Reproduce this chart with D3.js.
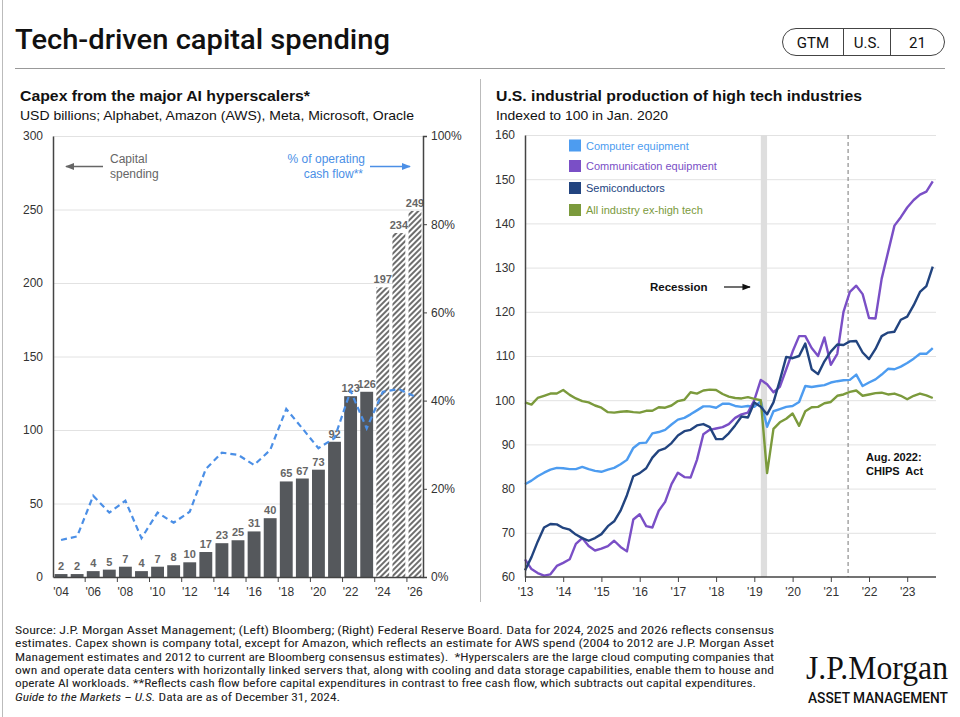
<!DOCTYPE html>
<html><head><meta charset="utf-8">
<script src="https://cdn.jsdelivr.net/npm/d3@7"></script>
<style>
html,body{margin:0;padding:0;background:#fff;}
svg{display:block;font-family:"Liberation Sans",Arial,sans-serif;}
</style></head><body>
<svg id="chart" width="960" height="717"></svg>
<script>
// ---------- Left chart data ----------
const capexYears = [2004,2005,2006,2007,2008,2009,2010,2011,2012,2013,2014,2015,2016,2017,2018,2019,2020,2021,2022,2023,2024,2025,2026];
const capexValues = [2,2,4,5,7,4,7,8,10,17,23,25,31,40,65,67,73,92,123,126,197,234,249];
const estimateYears = [2024,2025,2026];
const cashFlowPct = [8.4,9.2,18.4,14.6,17.3,8.8,14.6,12.3,14.8,24.5,28.2,27.7,25.4,28.8,38.1,33.7,29.2,31.5,42.2,33.7,42.0,42.6,40.9];
const leftTickValues = [0,50,100,150,200,250,300];
const rightTickValues = [0,20,40,60,80,100];
const leftXTickYears = [2004,2006,2008,2010,2012,2014,2016,2018,2020,2022,2024,2026];
const leftXTickLabels = ["'04","'06","'08","'10","'12","'14","'16","'18","'20","'22","'24","'26"];

// ---------- Right chart data (bi-monthly readings) ----------
const ipDates = ["2013-12","2014-02","2014-04","2014-06","2014-08","2014-10","2014-12","2015-02","2015-04","2015-06","2015-08","2015-10","2015-12","2016-02","2016-04","2016-06","2016-08","2016-10","2016-12","2017-02","2017-04","2017-06","2017-08","2017-10","2017-12","2018-02","2018-04","2018-06","2018-08","2018-10","2018-12","2019-02","2019-04","2019-06","2019-08","2019-10","2019-12","2020-02","2020-04","2020-06","2020-08","2020-10","2020-12","2021-02","2021-04","2021-06","2021-08","2021-10","2021-12","2022-02","2022-04","2022-06","2022-08","2022-10","2022-12","2023-02","2023-04","2023-06","2023-08","2023-10","2023-12","2024-02","2024-04","2024-06","2024-08"];
const computerEquipment = [81.0,81.8,82.8,83.6,84.3,84.7,84.6,84.4,84.4,84.9,84.4,84.0,83.8,84.3,84.7,85.5,86.5,89.2,90.3,90.4,92.5,92.8,93.3,94.5,95.6,96.0,96.8,97.7,98.6,98.6,98.3,99.2,99.2,98.7,98.5,98.7,98.5,99.8,94.0,97.5,98.0,98.5,98.7,99.6,103.2,103.0,103.2,103.4,104.0,104.3,104.5,104.6,105.8,103.2,104.0,104.7,105.8,107.1,107.0,107.6,108.4,109.4,110.5,110.5,111.8];
const communicationEquipment = [64.0,61.8,60.9,60.3,60.6,62.5,63.2,64.0,67.5,68.8,67.0,66.0,66.4,67.0,68.2,66.8,65.8,73.0,74.2,71.5,71.2,75.0,77.0,81.0,83.6,82.6,82.5,86.5,92.3,93.3,93.6,93.9,94.6,96.0,96.8,97.2,100.0,104.6,103.6,101.8,103.0,107.0,111.0,114.5,114.5,111.8,110.0,114.2,108.0,110.5,120.0,124.5,125.9,124.0,118.6,118.5,127.5,133.5,139.5,141.4,143.6,145.3,146.5,147.2,149.5];
const semiconductors = [61.5,64.5,68.0,71.2,72.0,71.9,71.1,70.7,69.6,68.8,68.2,68.8,69.7,71.5,72.6,75.0,78.5,82.8,83.5,84.6,87.0,88.6,89.1,90.3,92.0,93.0,93.3,94.3,94.6,93.9,91.2,91.2,92.5,94.3,96.3,96.1,99.5,98.5,96.8,99.5,104.5,109.8,109.5,110.0,112.8,107.0,105.9,108.8,111.0,112.6,112.5,113.3,113.4,110.8,109.3,111.6,114.5,115.3,115.5,118.2,118.9,121.5,124.5,125.8,130.2];
const allIndustryExHighTech = [99.5,99.0,100.5,101.0,101.5,101.5,102.3,101.2,100.4,99.8,99.5,98.8,98.3,97.3,97.2,97.4,97.5,97.3,97.2,97.6,97.6,98.4,98.3,98.8,99.8,100.1,101.8,101.5,102.2,102.4,102.3,101.4,100.8,100.5,100.4,100.7,100.3,100.0,83.5,93.5,95.0,95.8,97.0,94.2,97.5,98.4,98.5,99.3,99.6,101.0,101.3,101.9,102.2,101.0,101.3,101.6,101.7,101.3,101.5,101.0,100.2,101.0,101.5,101.1,100.5];
const seriesNames = ["Computer equipment","Communication equipment","Semiconductors","All industry ex-high tech"];
const seriesColors = ["#4d9cf0","#7a4fc6","#22447f","#7b9a3c"];
const rightYTicks = [60,70,80,90,100,110,120,130,140,150,160];
const rightXTickDates = ["2013-12","2014-12","2015-12","2016-12","2017-12","2018-12","2019-12","2020-12","2021-12","2022-12","2023-12"];
const rightXTickLabels = ["'13","'14","'15","'16","'17","'18","'19","'20","'21","'22","'23"];
const recession = ["2020-02","2020-04"];
const chipsLineDate = "2022-05-15";

const footerLines = [
 "Source: J.P. Morgan Asset Management; (Left) Bloomberg; (Right) Federal Reserve Board. Data for 2024, 2025 and 2026 reflects consensus",
 "estimates. Capex shown is company total, except for Amazon, which reflects an estimate for AWS spend (2004 to 2012 are J.P. Morgan Asset",
 "Management estimates and 2012 to current are Bloomberg consensus estimates).  *Hyperscalers are the large cloud computing companies that",
 "own and operate data centers with horizontally linked servers that, along with cooling and data storage capabilities, enable them to house and",
 "operate AI workloads. **Reflects cash flow before capital expenditures in contrast to free cash flow, which subtracts out capital expenditures."
];

const svg = d3.select("#chart");
const defs = svg.append("defs");
const hatch = defs.append("pattern").attr("id","hatch").attr("patternUnits","userSpaceOnUse")
  .attr("width",4).attr("height",4).attr("patternTransform","rotate(45)");
hatch.append("rect").attr("width",4).attr("height",4).attr("fill","#fff");
hatch.append("line").attr("x1",1).attr("y1",0).attr("x2",1).attr("y2",4).attr("stroke","#6e6e6e").attr("stroke-width",2);
function marker(id,color){
  defs.append("marker").attr("id",id).attr("viewBox","0 0 10 10").attr("refX",9).attr("refY",5)
   .attr("markerWidth",7).attr("markerHeight",7).attr("orient","auto-start-reverse")
   .append("path").attr("d","M0,1 L10,5 L0,9 Z").attr("fill",color);
}
marker("arrGray","#666"); marker("arrBlue","#4b8fe6"); marker("arrBlack","#111");

// ---------- Frame ----------
svg.append("line").attr("x1",2.5).attr("x2",2.5).attr("y1",0).attr("y2",717).attr("stroke","#bbb");
svg.append("text").attr("x",15).attr("y",49).attr("font-family","Roboto, sans-serif").attr("font-weight",500)
  .attr("font-size",28).attr("fill","#111").attr("textLength",375).attr("lengthAdjust","spacingAndGlyphs")
  .text("Tech-driven capital spending");
svg.append("line").attr("x1",15).attr("x2",945).attr("y1",68.5).attr("y2",68.5).attr("stroke","#999");
svg.append("rect").attr("x",782.5).attr("y",28.5).attr("width",162).attr("height",27).attr("rx",13.5)
  .attr("fill","none").attr("stroke","#444");
[843.5,890.5].forEach(x=>svg.append("line").attr("x1",x).attr("x2",x).attr("y1",28.5).attr("y2",55.5).attr("stroke","#444"));
[["GTM",813],["U.S.",867],["21",917.5]].forEach(([t,x])=>svg.append("text").attr("x",x).attr("y",48)
  .attr("text-anchor","middle").attr("font-family","Roboto, sans-serif").attr("font-size",15).attr("fill","#111").text(t));
svg.append("line").attr("x1",480.5).attr("x2",480.5).attr("y1",79).attr("y2",602).attr("stroke","#bbb");

// ---------- Left chart ----------
svg.append("text").attr("x",20).attr("y",101).attr("font-weight","bold").attr("font-size",15).attr("fill","#111")
  .attr("textLength",290).attr("lengthAdjust","spacingAndGlyphs").text("Capex from the major AI hyperscalers*");
svg.append("text").attr("x",20).attr("y",120).attr("font-size",13).attr("fill","#111")
  .attr("textLength",394).attr("lengthAdjust","spacingAndGlyphs").text("USD billions; Alphabet, Amazon (AWS), Meta, Microsoft, Oracle");

const xL = d3.scaleBand().domain(capexYears).range([53,423]).paddingInner(0.2).paddingOuter(0.1);
const yL = d3.scaleLinear().domain([0,300]).range([577,136]);
const yR = d3.scaleLinear().domain([0,100]).range([577,136]);
const gL = svg.append("g");
gL.selectAll("line.grid").data(leftTickValues.filter(d=>d>0)).join("line")
  .attr("x1",53).attr("x2",423).attr("y1",d=>yL(d)+0.5).attr("y2",d=>yL(d)+0.5).attr("stroke","#e2e2e2");

const capex = capexYears.map((y,i)=>({year:y,value:capexValues[i],pct:cashFlowPct[i],est:estimateYears.includes(y)}));
gL.selectAll("rect.bar").data(capex).join("rect")
  .attr("x",d=>xL(d.year)).attr("width",xL.bandwidth())
  .attr("y",d=>yL(d.value)).attr("height",d=>yL(0)-yL(d.value))
  .attr("fill",d=>d.est?"url(#hatch)":"#55585c");
gL.selectAll("text.val").data(capex).join("text")
  .attr("x",d=>xL(d.year)+xL.bandwidth()/2).attr("y",d=>yL(d.value)-4)
  .attr("text-anchor","middle").attr("font-size",11).attr("font-weight","bold").attr("fill","#666")
  .text(d=>d.value);

gL.append("path").datum(capex).attr("fill","none").attr("stroke","#4b8fe6").attr("stroke-width",2.2)
  .attr("stroke-dasharray","6,4")
  .attr("d",d3.line().x(d=>xL(d.year)+xL.bandwidth()/2).y(d=>yR(d.pct)));

// axes
const axL = gL.append("g").attr("transform","translate(53,0)")
  .call(d3.axisLeft(yL).tickValues(leftTickValues).tickSize(0).tickPadding(10));
axL.select(".domain").attr("stroke","#444").attr("stroke-width",1.5);
axL.selectAll("text").attr("font-size",12).attr("fill","#333").attr("font-family","Liberation Sans, Arial, sans-serif");
const axR = gL.append("g").attr("transform","translate(423,0)")
  .call(d3.axisRight(yR).tickValues(rightTickValues).tickSize(4).tickPadding(4).tickFormat(d=>d+"%"));
axR.select(".domain").attr("stroke","#444").attr("stroke-width",1.5);
axR.selectAll("line").attr("stroke","#444");
axR.selectAll("text").attr("font-size",12).attr("fill","#333").attr("font-family","Liberation Sans, Arial, sans-serif");
const axB = gL.append("g").attr("transform","translate(0,577)")
  .call(d3.axisBottom(xL).tickValues(leftXTickYears).tickSize(0).tickPadding(10)
    .tickFormat(d=>leftXTickLabels[leftXTickYears.indexOf(d)]));
axB.select(".domain").attr("stroke","#444").attr("stroke-width",1.5);
axB.selectAll("text").attr("font-size",12).attr("fill","#333").attr("font-family","Liberation Sans, Arial, sans-serif");
const gapL = xL.step()*xL.paddingInner()/2;
gL.selectAll("line.xt").data(leftXTickYears.slice(1)).join("line")
  .attr("x1",d=>xL(d)-gapL).attr("x2",d=>xL(d)-gapL).attr("y1",577).attr("y2",582).attr("stroke","#444");

// annotations
gL.append("line").attr("x1",103).attr("x2",66).attr("y1",166.5).attr("y2",166.5).attr("stroke","#666").attr("stroke-width",1.3).attr("marker-end","url(#arrGray)");
gL.append("text").attr("x",110).attr("y",163).attr("font-size",12).attr("fill","#666").text("Capital");
gL.append("text").attr("x",110).attr("y",178).attr("font-size",12).attr("fill","#666").text("spending");
gL.append("text").attr("x",365).attr("y",163).attr("text-anchor","end").attr("font-size",12).attr("fill","#4b8fe6").text("% of operating");
gL.append("text").attr("x",363).attr("y",178).attr("text-anchor","end").attr("font-size",12).attr("fill","#4b8fe6").text("cash flow**");
gL.append("line").attr("x1",370).attr("x2",410).attr("y1",166.5).attr("y2",166.5).attr("stroke","#4b8fe6").attr("stroke-width",1.3).attr("marker-end","url(#arrBlue)");

// ---------- Right chart ----------
svg.append("text").attr("x",496).attr("y",101).attr("font-weight","bold").attr("font-size",15).attr("fill","#111")
  .attr("textLength",366).attr("lengthAdjust","spacingAndGlyphs").text("U.S. industrial production of high tech industries");
svg.append("text").attr("x",496).attr("y",120).attr("font-size",13).attr("fill","#111")
  .attr("textLength",172).attr("lengthAdjust","spacingAndGlyphs").text("Indexed to 100 in Jan. 2020");

const parseM = d3.timeParse("%Y-%m");
const parseD = d3.timeParse("%Y-%m-%d");
const xT = d3.scaleTime().domain([parseM("2013-12"),parseM("2024-09")]).range([525,936]);
const yT = d3.scaleLinear().domain([60,160]).range([577,135]);
const gR = svg.append("g");
gR.selectAll("line.grid").data(rightYTicks.filter(d=>d>60)).join("line")
  .attr("x1",525).attr("x2",936).attr("y1",d=>yT(d)+0.5).attr("y2",d=>yT(d)+0.5).attr("stroke","#e2e2e2");
gR.append("rect").attr("x",xT(parseM(recession[0]))).attr("width",xT(parseM(recession[1]))-xT(parseM(recession[0])))
  .attr("y",yT(160)).attr("height",yT(60)-yT(160)).attr("fill","#dedede");
const cx = xT(parseD(chipsLineDate));
gR.append("line").attr("x1",cx).attr("x2",cx).attr("y1",yT(160)).attr("y2",yT(60))
  .attr("stroke","#777").attr("stroke-dasharray","4,3");

const seriesData = [computerEquipment,communicationEquipment,semiconductors,allIndustryExHighTech];
const lineGen = d3.line().x((d,i)=>xT(parseM(ipDates[i]))).y(d=>yT(d));
[0,1,3,2].forEach(k=>{
  gR.append("path").datum(seriesData[k]).attr("fill","none").attr("stroke",seriesColors[k])
    .attr("stroke-width",2.4).attr("stroke-linejoin","round").attr("d",lineGen);
});

const axTL = gR.append("g").attr("transform","translate(525,0)")
  .call(d3.axisLeft(yT).tickValues(rightYTicks).tickSize(0).tickPadding(10));
axTL.select(".domain").attr("stroke","#444").attr("stroke-width",1.5);
axTL.selectAll("text").attr("font-size",12).attr("fill","#333").attr("font-family","Liberation Sans, Arial, sans-serif");
const xTickDates = rightXTickDates.map(parseM);
const axTB = gR.append("g").attr("transform","translate(0,577)")
  .call(d3.axisBottom(xT).tickValues(xTickDates).tickSize(5).tickPadding(5)
    .tickFormat((d,i)=>rightXTickLabels[i]));
axTB.select(".domain").attr("stroke","#444").attr("stroke-width",1.5).attr("d","M525,0H936");
axTB.selectAll("line").attr("stroke","#444");
axTB.selectAll("text").attr("font-size",12).attr("fill","#333").attr("font-family","Liberation Sans, Arial, sans-serif");

// legend
const lg = gR.append("g");
const legendY = [145.5,166,188,210];
seriesNames.forEach((n,i)=>{
  lg.append("rect").attr("x",569).attr("y",legendY[i]-6).attr("width",12).attr("height",12).attr("fill",seriesColors[i]);
  lg.append("text").attr("x",586).attr("y",legendY[i]+4).attr("font-size",11).attr("fill",seriesColors[i]).text(n);
});

gR.append("text").attr("x",650).attr("y",291).attr("font-size",11.5).attr("font-weight","bold").attr("fill","#111").text("Recession");
gR.append("line").attr("x1",724).attr("x2",750).attr("y1",287).attr("y2",287).attr("stroke","#111").attr("stroke-width",1.2).attr("marker-end","url(#arrBlack)");
gR.append("text").attr("x",866).attr("y",461).attr("font-size",11).attr("font-weight","bold").attr("fill","#111").text("Aug. 2022:");
gR.append("text").attr("x",866).attr("y",475).attr("font-size",11).attr("font-weight","bold").attr("fill","#111").attr("xml:space","preserve").text("CHIPS  Act");

// ---------- Footer ----------
const fg = svg.append("g").attr("font-family","'Liberation Sans Narrow','Arial Narrow','Roboto Condensed',sans-serif").attr("font-size",10.5).attr("fill","#222");
const fWidths = [759,759,759,759,741];
footerLines.forEach((t,i)=>{
  fg.append("text").attr("x",15).attr("y",634+i*13.3).attr("textLength",fWidths[i]).attr("lengthAdjust","spacingAndGlyphs")
    .attr("xml:space","preserve").text(t);
});
const last = fg.append("text").attr("x",15).attr("y",634+5*13.3).attr("textLength",325).attr("lengthAdjust","spacingAndGlyphs");
last.append("tspan").attr("font-style","italic").text("Guide to the Markets \u2013 U.S.");
last.append("tspan").text(" Data are as of December 31, 2024.");

svg.append("text").attr("x",806).attr("y",679).attr("font-family","'Liberation Serif','DejaVu Serif',serif")
  .attr("font-size",33).attr("fill","#111").attr("textLength",142).attr("lengthAdjust","spacingAndGlyphs").text("J.P.Morgan");
svg.append("text").attr("x",808).attr("y",703).attr("font-family","Roboto, sans-serif").attr("font-weight",500)
  .attr("font-size",14).attr("fill","#111").attr("textLength",140).attr("lengthAdjust","spacingAndGlyphs").text("ASSET MANAGEMENT");
</script>
</body></html>
